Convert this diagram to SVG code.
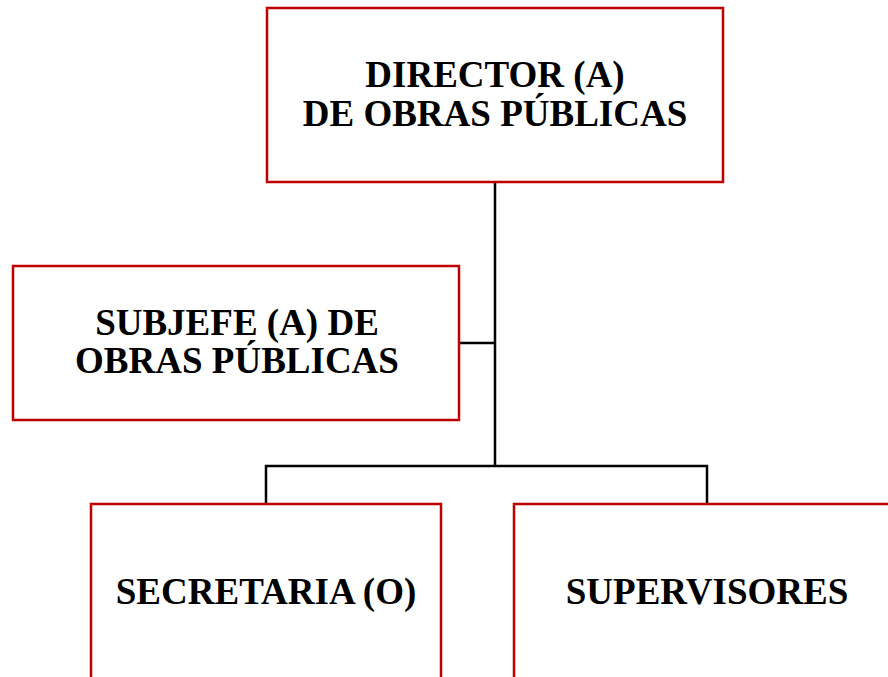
<svg xmlns="http://www.w3.org/2000/svg" width="888" height="677" viewBox="0 0 888 677">
<style>
.box{fill:#ffffff;stroke:#c00000;stroke-width:2.5}
.lbl{font-family:"Liberation Serif","Times New Roman",serif;font-weight:bold;font-size:37px;fill:#000;text-anchor:middle}
.con{fill:none;stroke:#000;stroke-width:2.5}
</style>
<rect width="888" height="677" fill="#ffffff"/>
<g id="connectors">
<path class="con" d="M495,183 V466"/>
<path class="con" d="M459,343 H495"/>
<path class="con" d="M266,504 V466 H707 V504"/>
</g>
<g id="director">
<rect class="box" x="267" y="8" width="456" height="174"/>
<text class="lbl" x="495" y="87">DIRECTOR (A)</text>
<text class="lbl" x="495" y="126">DE OBRAS PÚBLICAS</text>
</g>
<g id="subjefe">
<rect class="box" x="13" y="266" width="446" height="154"/>
<text class="lbl" x="237" y="335">SUBJEFE (A) DE</text>
<text class="lbl" x="237" y="373">OBRAS PÚBLICAS</text>
</g>
<g id="secretaria">
<rect class="box" x="91" y="504" width="350" height="190"/>
<text class="lbl" x="266" y="604">SECRETARIA (O)</text>
</g>
<g id="supervisores">
<rect class="box" x="514" y="504" width="390" height="190"/>
<text class="lbl" x="707" y="604">SUPERVISORES</text>
</g>
</svg>
